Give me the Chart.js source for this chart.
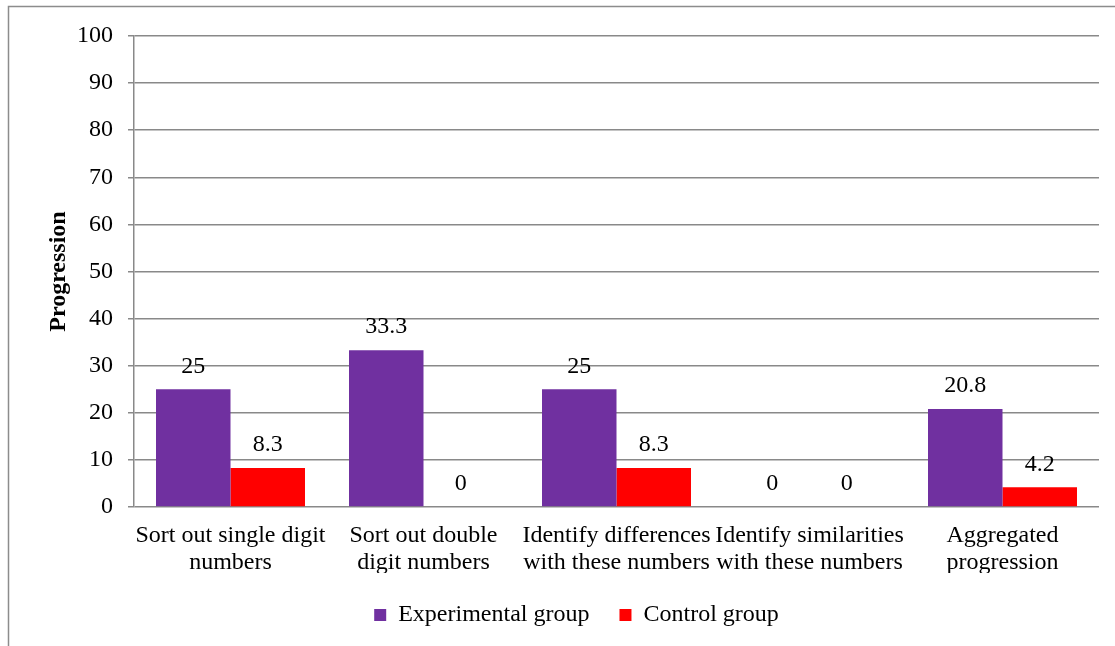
<!DOCTYPE html>
<html>
<head>
<meta charset="utf-8">
<title>Progression by skill</title>
<script src="https://cdn.jsdelivr.net/npm/chart.js@4.4.1/dist/chart.umd.min.js"></script>
<style>
  html, body { margin: 0; padding: 0; background: #ffffff; }
  #wrap { position: relative; width: 1115px; height: 646px; }
</style>
</head>
<body>
<div id="wrap"><canvas id="chart" width="1115" height="646"></canvas></div>
<script>
// Skill categories (each entry is the wrapped label, one string per line)
const categories = [
  ['Sort out single digit', 'numbers'],
  ['Sort out double', 'digit numbers'],
  ['Identify differences', 'with these numbers'],
  ['Identify similarities', 'with these numbers'],
  ['Aggregated', 'progression']
];
const experimentalGroup = [25, 33.3, 25, 0, 20.8];
const controlGroup = [8.3, 0, 8.3, 0, 4.2];
const yTicks = [0, 10, 20, 30, 40, 50, 60, 70, 80, 90, 100];

const SERIF = '"Liberation Serif", "Times New Roman", Times, serif';
const GRID = '#898989';

// Value labels above each bar
const valueLabels = {
  id: 'valueLabels',
  afterDatasetsDraw(chart) {
    const ctx = chart.ctx;
    ctx.save();
    ctx.font = '24px ' + SERIF;
    ctx.fillStyle = '#000000';
    ctx.textAlign = 'center';
    ctx.textBaseline = 'middle';
    chart.data.datasets.forEach((ds, i) => {
      const meta = chart.getDatasetMeta(i);
      meta.data.forEach((bar, j) => {
        ctx.fillText(String(ds.data[j]), bar.x, bar.y - 23);
      });
    });
    ctx.restore();
  }
};

// Thin frame around the chart
const frame = {
  id: 'frame',
  beforeDraw(chart) {
    const ctx = chart.ctx;
    ctx.save();
    ctx.strokeStyle = '#8c8c8c';
    ctx.lineWidth = 1.5;
    ctx.beginPath();
    ctx.moveTo(8.5, chart.height + 5);
    ctx.lineTo(8.5, 6.5);
    ctx.lineTo(chart.width + 5, 6.5);
    ctx.stroke();
    ctx.restore();
  }
};

new Chart(document.getElementById('chart'), {
  type: 'bar',
  data: {
    labels: categories,
    datasets: [
      { label: 'Experimental group', data: experimentalGroup, backgroundColor: '#7030A0' },
      { label: 'Control group', data: controlGroup, backgroundColor: '#FF0000' }
    ]
  },
  options: {
    responsive: false,
    animation: false,
    devicePixelRatio: 1,
    layout: { padding: { left: 54, right: 16, top: 36, bottom: 9 } },
    datasets: {
      bar: { categoryPercentage: 0.772, barPercentage: 1.0 }
    },
    scales: {
      x: {
        grid: { display: false, drawTicks: false },
        border: { display: false },
        ticks: {
          color: '#000000',
          padding: 15,
          maxRotation: 0,
          autoSkip: false,
          font: { family: SERIF, size: 24, lineHeight: 1.13 }
        },
        afterFit(scale) { scale.height = 66; }
      },
      y: {
        min: 0,
        max: 100,
        afterBuildTicks(scale) { scale.ticks = yTicks.map(v => ({ value: v })); },
        grid: { color: GRID, lineWidth: 1.5, tickLength: 6, tickColor: GRID },
        border: { display: true, color: GRID, width: 1.5 },
        ticks: {
          color: '#000000',
          padding: 15,
          font: { family: SERIF, size: 24 }
        },
        title: {
          display: true,
          text: 'Progression',
          color: '#000000',
          padding: { top: -10, bottom: 0 },
          font: { family: SERIF, size: 24, weight: 'bold' }
        },
        afterFit(scale) { scale.width = 80; }
      }
    },
    plugins: {
      legend: {
        position: 'bottom',
        labels: {
          color: '#000000',
          boxWidth: 12,
          boxHeight: 12,
          padding: 30,
          font: { family: SERIF, size: 24 }
        }
      },
      tooltip: { enabled: false }
    }
  },
  plugins: [frame, valueLabels]
});
</script>
</body>
</html>
